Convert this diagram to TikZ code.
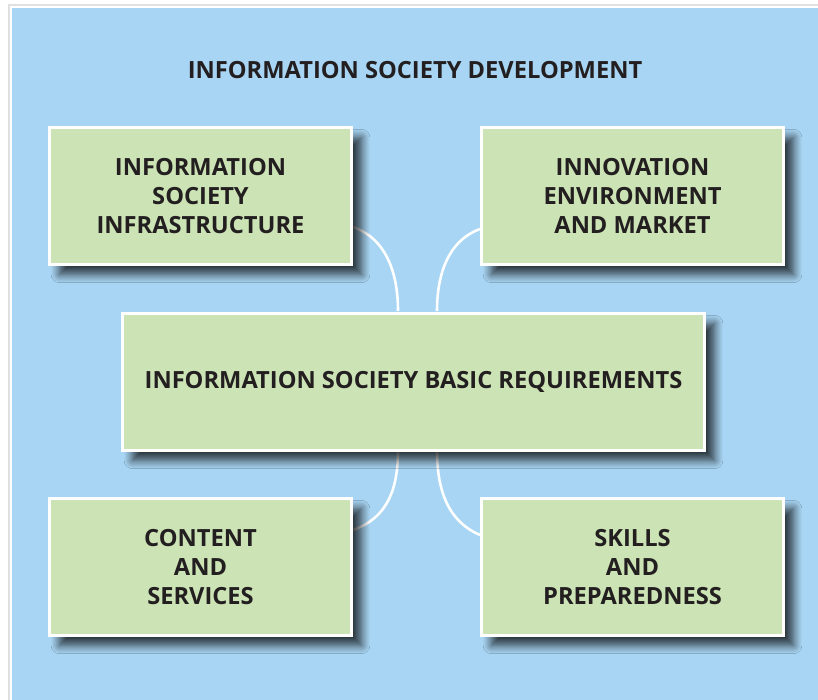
\documentclass[tikz,border=0pt]{standalone}
\usepackage{fontspec}
\setmainfont{Open Sans}
\usetikzlibrary{shadows.blur}
\definecolor{panelblue}{HTML}{A8D5F3}
\definecolor{boxgreen}{HTML}{CCE4B5}
\definecolor{inkdark}{HTML}{231F20}
\begin{document}
\begin{tikzpicture}[x=0.03cm, y=-0.03cm,
	boxtext/.style={font=\bfseries\fontsize{20.2}{25}\selectfont, text=inkdark, align=center},
	req/.style={boxtext, fill=boxgreen, draw=white, line width=2.2pt, inner sep=0pt,
		blur shadow={shadow xshift=0.3cm, shadow yshift=-0.3cm, shadow opacity=75, shadow blur steps=10, shadow blur radius=0.25cm}},
	side/.style={req, minimum width=9.06cm, minimum height=4.1cm},
	link/.style={draw=white, line width=2.2pt}]
\useasboundingbox (0,0) rectangle (818,699);
\fill[white] (0,0) rectangle (818,699);
\fill[black!12] (8,4) rectangle (830,710);
\filldraw[fill=panelblue, draw=white, line width=2pt] (11,7) rectangle (830,710);
\node[boxtext] (title) at (415,70) {INFORMATION SOCIETY DEVELOPMENT};
\coordinate (tlend) at (353,227);
\coordinate (trend) at (480,229);
\coordinate (blend) at (353,530);
\coordinate (brend) at (480,535);
\coordinate (ctl) at (398,311);
\coordinate (ctr) at (437,311);
\coordinate (cbl) at (398,450);
\coordinate (cbr) at (437,450);
\draw[link] (tlend) .. controls (390,240) and (398,280) .. (ctl);
\draw[link] (trend) .. controls (445,242) and (437,280) .. (ctr);
\draw[link] (cbl) .. controls (398,485) and (390,517) .. (blend);
\draw[link] (cbr) .. controls (437,485) and (445,520) .. (brend);
\node[side] (infra) at (200.5,196) {INFORMATION\\SOCIETY\\INFRASTRUCTURE};
\node[side] (innov) at (632.5,196) {INNOVATION\\ENVIRONMENT\\AND MARKET};
\node[req, minimum width=17.46cm, minimum height=4.1cm] (basic) at (413.5,382) {INFORMATION SOCIETY BASIC REQUIREMENTS};
\node[side] (content) at (200.5,567) {CONTENT\\AND\\SERVICES};
\node[side] (skills) at (632.5,567) {SKILLS\\AND\\PREPAREDNESS};
\end{tikzpicture}
\end{document}
